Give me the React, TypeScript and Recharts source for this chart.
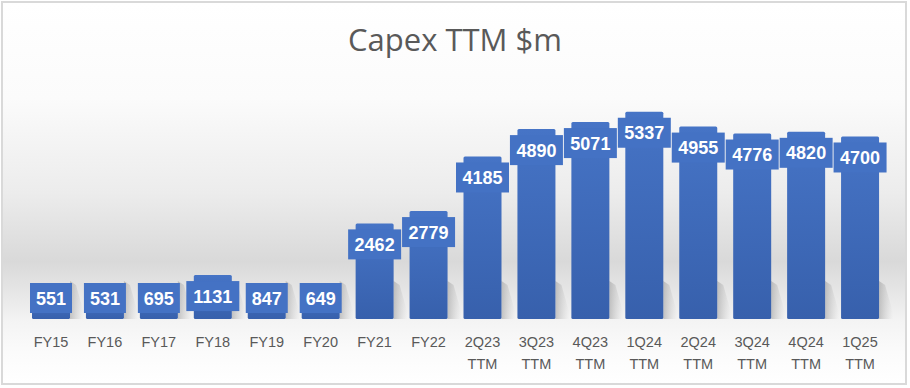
import React from 'react';
import { BarChart, Bar, XAxis, YAxis, LabelList } from 'recharts';

const categories = [
  'FY15', 'FY16', 'FY17', 'FY18', 'FY19', 'FY20', 'FY21', 'FY22',
  '2Q23 TTM', '3Q23 TTM', '4Q23 TTM', '1Q24 TTM', '2Q24 TTM', '3Q24 TTM', '4Q24 TTM', '1Q25 TTM',
];
const capex = [551, 531, 695, 1131, 847, 649, 2462, 2779, 4185, 4890, 5071, 5337, 4955, 4776, 4820, 4700];
const yDomain = [0, 6000];
const title = 'Capex TTM $m';

const data = categories.map((name, i) => ({ name, value: capex[i] }));

const BarShape = (props: any) => {
  const { x, y, width, height } = props;
  const base = y + height;
  const sx = x + width;
  return (
    <g>
      <polygon
        points={`${sx},${base - 38} ${sx + 6},${base - 34} ${sx + 14},${base - 6} ${sx + 14},${base} ${sx},${base}`}
        fill="url(#shadowGrad)"
      />
      <rect x={x} y={y} width={width} height={height} fill="url(#barGrad)" rx={1.5} ry={1.5} />
    </g>
  );
};

const ValueLabel = (props: any) => {
  const { x, y, width, height, value } = props;
  const s = String(value);
  const boxW = s.length <= 3 ? 42 : 53;
  const boxH = 30;
  const base = y + height;
  const top = Math.min(y + 6, base - 6 - boxH);
  const cx = x + width / 2;
  return (
    <g>
      <rect x={cx - boxW / 2} y={top} width={boxW} height={boxH} fill="#4472C4" />
      <text
        x={cx}
        y={top + boxH / 2 + 6.5}
        textAnchor="middle"
        fill="#ffffff"
        fontFamily="'Liberation Sans', Arial, sans-serif"
        fontWeight={700}
        fontSize={18}
      >
        {s}
      </text>
    </g>
  );
};

const Tick = (props: any) => {
  const { x, y, payload } = props;
  const parts = String(payload.value).split(' ');
  return (
    <g>
      {parts.map((p, i) => (
        <text
          key={i}
          x={x}
          y={y + 28 + i * 22}
          textAnchor="middle"
          fill="#595959"
          fontFamily="'Liberation Sans', Arial, sans-serif"
          fontSize={14.5}
        >
          {p}
        </text>
      ))}
    </g>
  );
};

export default function App() {
  return (
    <div style={{ position: 'absolute', left: 0, top: 0, width: 910, height: 388, background: '#ffffff' }}>
      <div
        style={{
          position: 'absolute',
          left: 1,
          top: 1,
          width: 906,
          height: 384,
          boxSizing: 'border-box',
          border: '2px solid #d9d9d9',
          background:
            'linear-gradient(to bottom, #ffffff 0%, #fbfbfb 25%, #ececec 50%, #d9d9d9 68%, #e6e6e6 76%, #f4f4f4 84%, #fbfbfb 92%, #ffffff 100%)',
        }}
      />
      <div style={{ position: 'absolute', left: 0, top: 0 }}>
        <BarChart width={910} height={388} data={data} margin={{ top: 86, right: 23, bottom: 29, left: 24 }}>
          <defs>
            <linearGradient id="barGrad" x1="0" y1="0" x2="0" y2="1">
              <stop offset="0%" stopColor="#4674C6" />
              <stop offset="100%" stopColor="#3760AC" />
            </linearGradient>
            <linearGradient id="shadowGrad" x1="0" y1="0" x2="1" y2="0">
              <stop offset="0%" stopColor="#9a9a9a" stopOpacity={0.55} />
              <stop offset="100%" stopColor="#bdbdbd" stopOpacity={0} />
            </linearGradient>
          </defs>
          <text
            x={455}
            y={51}
            textAnchor="middle"
            fill="#595959"
            fontFamily="'Open Sans', sans-serif"
            fontSize={31}
          >
            {title}
          </text>
          <XAxis
            dataKey="name"
            axisLine={false}
            tickLine={false}
            tickSize={0}
            tickMargin={0}
            height={40}
            interval={0}
            tick={<Tick />}
          />
          <YAxis hide domain={yDomain} />
          <Bar dataKey="value" barSize={38} shape={<BarShape />} isAnimationActive={false}>
            <LabelList dataKey="value" content={<ValueLabel />} />
          </Bar>
        </BarChart>
      </div>
    </div>
  );
}
